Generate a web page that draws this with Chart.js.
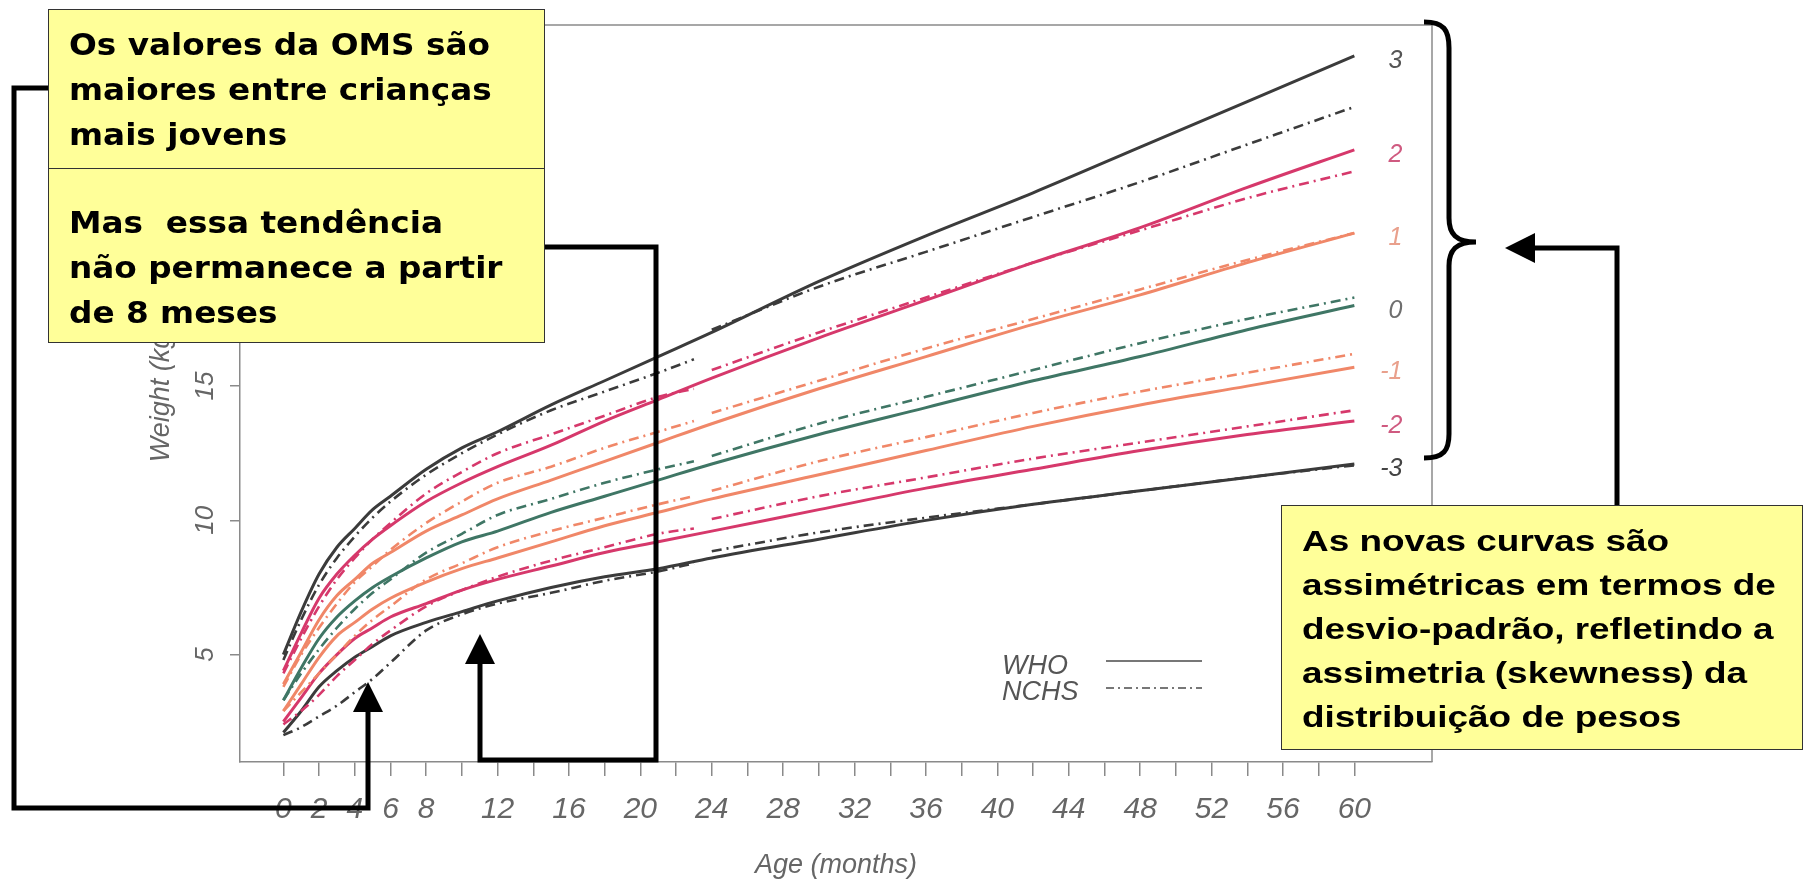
<!DOCTYPE html>
<html>
<head>
<meta charset="utf-8">
<script src="https://cdn.jsdelivr.net/npm/chart.js@4.4.1/dist/chart.umd.min.js"></script>
<style>
  html, body { margin: 0; padding: 0; background: #fff; }
  #wrap { position: relative; width: 1805px; height: 880px; overflow: hidden; }
  #myChart { position: absolute; left: 0; top: 0; }
  #arrows { position: absolute; left: 0; top: 0; }
  .note { position: absolute; box-sizing: border-box; background: #ffff99; border: 1.5px solid #333; color: #000; font-weight: bold; }
  .note .txt { transform-origin: 0 0; white-space: nowrap; }
  #note1, #note2 { font-family: 'DejaVu Sans', sans-serif; font-size: 30px; line-height: 45px; padding-left: 20px; }
  #note1 { left: 48px; top: 9px; width: 497px; height: 161px; padding-top: 12px; }
  #note2 { left: 48px; top: 168px; width: 497px; height: 175px; padding-top: 31px; }
  #note1 .txt, #note2 .txt { transform: scaleX(1.09); }
  #note3 { left: 1281px; top: 505px; width: 522px; height: 245px; padding-top: 13px; padding-left: 20px;
           font-family: 'Liberation Sans', Arial, sans-serif; font-size: 30px; line-height: 44px; }
  #note3 .txt { transform: scaleX(1.23); }
</style>
</head>
<body>
<div id="wrap">
  <canvas id="myChart" width="1805" height="880"></canvas>
  <svg id="arrows" width="1805" height="880">
    <g fill="none" stroke="#000" stroke-width="5">
      <polyline points="48,88 14,88 14,808 368,808 368,706"/>
      <polyline points="545,247 656,247 656,760 480,760 480,658"/>
      <polyline points="1617,505 1617,248 1530,248"/>
      <path d="M1424,22 C1444,22 1449,30 1449,48 L1449,218 C1449,234 1456,242 1476,242 C1456,242 1449,250 1449,266 L1449,434 C1449,450 1444,458 1424,458"/>
    </g>
    <g fill="#000">
      <polygon points="368,682 353,712 383,712"/>
      <polygon points="480,634 465,664 495,664"/>
      <polygon points="1505,248 1535,233 1535,263"/>
    </g>
  </svg>
  <div class="note" id="note1"><div class="txt">Os valores da OMS são<br>maiores entre crianças<br>mais jovens</div></div>
  <div class="note" id="note2"><div class="txt">Mas&nbsp; essa tendência<br>não permanece a partir<br>de 8 meses</div></div>
  <div class="note" id="note3"><div class="txt">As novas curvas são<br>assimétricas em termos de<br>desvio-padrão, refletindo a<br>assimetria (skewness) da<br>distribuição de pesos</div></div>
</div>
<script>
// WHO standard curves (solid), age in months
var whoMonths = [0, 1, 2, 3, 4, 5, 6, 8, 10, 12, 15, 18, 21, 24, 30, 36, 42, 48, 54, 60];
var whoP3 = [5.0, 6.6, 8.0, 9.0, 9.7, 10.4, 10.9, 11.9, 12.7, 13.3, 14.3, 15.2, 16.1, 17.0, 18.9, 20.6, 22.2, 23.9, 25.6, 27.3];
var whoP2 = [4.4, 5.8, 7.1, 8.0, 8.7, 9.3, 9.8, 10.7, 11.4, 12.0, 12.8, 13.7, 14.5, 15.3, 16.8, 18.2, 19.6, 20.9, 22.4, 23.8];
var whoP1 = [3.9, 5.1, 6.3, 7.2, 7.8, 8.4, 8.8, 9.6, 10.2, 10.8, 11.5, 12.2, 12.9, 13.6, 14.9, 16.1, 17.3, 18.4, 19.6, 20.7];
var who0  = [3.3, 4.5, 5.6, 6.4, 7.0, 7.5, 7.9, 8.6, 9.2, 9.6, 10.3, 10.9, 11.5, 12.1, 13.2, 14.2, 15.2, 16.1, 17.1, 18.0];
var whoM1 = [2.9, 3.9, 4.9, 5.7, 6.2, 6.7, 7.1, 7.7, 8.2, 8.6, 9.2, 9.8, 10.3, 10.8, 11.7, 12.6, 13.5, 14.3, 15.0, 15.7];
var whoM2 = [2.5, 3.4, 4.3, 5.0, 5.6, 6.0, 6.4, 6.9, 7.4, 7.8, 8.3, 8.8, 9.2, 9.6, 10.4, 11.2, 11.9, 12.6, 13.2, 13.7];
var whoM3 = [2.1, 2.9, 3.8, 4.4, 4.9, 5.3, 5.7, 6.2, 6.6, 7.0, 7.5, 7.9, 8.2, 8.6, 9.3, 10.0, 10.6, 11.1, 11.6, 12.1];

// NCHS reference curves (dash-dot), break between 23 and 24 months
var nchsMonths = [0, 1, 2, 3, 4, 5, 6, 8, 10, 12, 15, 18, 21, 23, 23.5, 24, 30, 36, 42, 48, 54, 60];
var nchsP3 = [4.8, 6.3, 7.6, 8.6, 9.4, 10.1, 10.7, 11.7, 12.5, 13.2, 14.1, 14.8, 15.5, 16.0, null, 17.1, 18.7, 20.0, 21.3, 22.6, 24.0, 25.4];
var nchsP2 = [4.3, 5.6, 6.8, 7.8, 8.6, 9.3, 9.9, 11.0, 11.8, 12.5, 13.2, 13.9, 14.6, 14.9, null, 15.6, 17.0, 18.3, 19.6, 20.8, 22.0, 23.0];
var nchsP1 = [3.8, 5.0, 6.0, 6.9, 7.7, 8.3, 8.9, 9.9, 10.7, 11.4, 12.0, 12.7, 13.3, 13.7, null, 14.0, 15.2, 16.4, 17.5, 18.6, 19.7, 20.7];
var nchs0  = [3.3, 4.3, 5.2, 6.0, 6.7, 7.3, 7.8, 8.8, 9.5, 10.2, 10.8, 11.4, 11.9, 12.2, null, 12.4, 13.6, 14.6, 15.6, 16.6, 17.5, 18.3];
var nchsM1 = [2.9, 3.6, 4.3, 5.0, 5.7, 6.3, 6.8, 7.8, 8.4, 9.0, 9.6, 10.1, 10.6, 10.9, null, 11.1, 12.2, 13.1, 14.0, 14.8, 15.5, 16.2];
var nchsM2 = [2.4, 2.9, 3.5, 4.2, 4.8, 5.4, 5.9, 6.8, 7.4, 7.9, 8.5, 9.0, 9.5, 9.7, null, 10.05, 10.9, 11.6, 12.3, 12.9, 13.5, 14.1];
var nchsM3 = [2.0, 2.3, 2.7, 3.1, 3.6, 4.1, 4.7, 5.9, 6.5, 6.9, 7.3, 7.75, 8.1, 8.4, null, 8.85, 9.55, 10.1, 10.6, 11.1, 11.6, 12.05];

var sdLabels = ['3', '2', '1', '0', '-1', '-2', '-3'];
var xTickMarks = [0, 2, 4, 6, 8, 10, 12, 14, 16, 18, 20, 22, 24, 26, 28, 30, 32, 34, 36, 38, 40, 42, 44, 46, 48, 50, 52, 54, 56, 58, 60];
var xTickLabels = [0, 2, 4, 6, 8, 12, 16, 20, 24, 28, 32, 36, 40, 44, 48, 52, 56, 60];
var yTicks = [5, 10, 15, 20, 25];
var legendNames = ['WHO', 'NCHS'];

var black = '#3b3b3b', pink = '#d6386b', salmon = '#f08768', green = '#3f7665';
var sdColors = [black, pink, salmon, green, salmon, pink, black];
var labelColors = ['#555555', '#cf5a80', '#e9a08c', '#6f6f6f', '#e9a08c', '#cf5a80', '#444444'];
var dashDot = [10, 5, 2, 5];

function pts(months, vals) {
  return months.map(function(m, i) { return {x: m, y: vals[i]}; });
}

var whoSets = [whoP3, whoP2, whoP1, who0, whoM1, whoM2, whoM3];
var nchsSets = [nchsP3, nchsP2, nchsP1, nchs0, nchsM1, nchsM2, nchsM3];

var datasets = [];
nchsSets.forEach(function(vals, i) {
  datasets.push({
    label: 'NCHS ' + sdLabels[i],
    data: pts(nchsMonths, vals),
    borderColor: sdColors[i],
    borderWidth: 2.6,
    borderDash: dashDot,
    pointRadius: 0,
    spanGaps: false,
    cubicInterpolationMode: 'monotone',
    fill: false
  });
});
whoSets.forEach(function(vals, i) {
  datasets.push({
    label: 'WHO ' + sdLabels[i],
    data: pts(whoMonths, vals),
    borderColor: sdColors[i],
    borderWidth: 3,
    pointRadius: 0,
    cubicInterpolationMode: 'monotone',
    fill: false
  });
});

var decor = {
  id: 'decor',
  afterDraw: function(chart) {
    var ctx = chart.ctx, a = chart.chartArea;
    var xs = chart.scales.x, ys = chart.scales.y;
    ctx.save();
    // frame top and right
    ctx.strokeStyle = '#8a8a8a';
    ctx.lineWidth = 1.5;
    ctx.beginPath();
    ctx.moveTo(a.left, a.top);
    ctx.lineTo(a.right, a.top);
    ctx.lineTo(a.right, a.bottom);
    ctx.stroke();

    // rotated y tick labels
    ctx.fillStyle = '#666';
    ctx.font = 'italic 26px "Liberation Sans", Arial, sans-serif';
    ctx.textAlign = 'center';
    ctx.textBaseline = 'middle';
    yTicks.forEach(function(v) {
      ctx.save();
      ctx.translate(206, ys.getPixelForValue(v));
      ctx.rotate(-Math.PI / 2);
      ctx.fillText(String(v), 0, 0);
      ctx.restore();
    });

    // SD labels at line ends
    ctx.font = 'italic 25px "Liberation Sans", Arial, sans-serif';
    ctx.textAlign = 'right';
    whoSets.forEach(function(vals, i) {
      var last = vals[vals.length - 1];
      ctx.fillStyle = labelColors[i];
      ctx.fillText(sdLabels[i], xs.getPixelForValue(whoMonths[whoMonths.length - 1]) + 48, ys.getPixelForValue(last) + 5);
    });

    // legend
    ctx.fillStyle = '#555';
    ctx.font = 'italic 27px "Liberation Sans", Arial, sans-serif';
    ctx.textAlign = 'left';
    ctx.textBaseline = 'alphabetic';
    ctx.fillText(legendNames[0], 1002, 674);
    ctx.fillText(legendNames[1], 1002, 700);
    ctx.strokeStyle = '#777';
    ctx.lineWidth = 2;
    ctx.beginPath();
    ctx.moveTo(1106, 661); ctx.lineTo(1202, 661);
    ctx.stroke();
    ctx.setLineDash([8, 4, 2, 4]);
    ctx.beginPath();
    ctx.moveTo(1106, 688); ctx.lineTo(1202, 688);
    ctx.stroke();
    ctx.restore();
  }
};

Chart.defaults.font.family = '"Liberation Sans", Arial, sans-serif';

var ctx = document.getElementById('myChart');
var myChart = new Chart(ctx, {
  type: 'line',
  data: { datasets: datasets },
  options: {
    responsive: false,
    animation: false,
    events: [],
    layout: { padding: { left: 0, right: 373, top: 25, bottom: -10 } },
    plugins: { legend: { display: false }, tooltip: { enabled: false } },
    scales: {
      x: {
        type: 'linear',
        min: -2.43,
        max: 64.35,
        afterFit: function(scale) { scale.height = 128; },
        afterBuildTicks: function(scale) {
          scale.ticks = xTickMarks.map(function(v) { return {value: v}; });
        },
        ticks: {
          autoSkip: false,
          maxRotation: 0,
          padding: 16,
          color: '#666',
          font: { size: 30, style: 'italic' },
          callback: function(value) {
            return xTickLabels.indexOf(value) >= 0 ? String(value) : '';
          }
        },
        grid: { drawOnChartArea: false, drawTicks: true, tickLength: 14, color: '#8a8a8a', lineWidth: 1.5 },
        border: { display: true, color: '#8a8a8a', width: 1.5 },
        title: {
          display: true,
          text: 'Age (months)',
          color: '#666',
          font: { size: 27, style: 'italic', lineHeight: 1.2 },
          padding: { top: 0, bottom: 8 }
        }
      },
      y: {
        type: 'linear',
        min: 1,
        max: 28.45,
        afterFit: function(scale) { scale.width = 240; },
        afterBuildTicks: function(scale) {
          scale.ticks = yTicks.map(function(v) { return {value: v}; });
        },
        ticks: { display: false },
        grid: { drawOnChartArea: false, drawTicks: true, tickLength: 10, color: '#8a8a8a', lineWidth: 1.5 },
        border: { display: true, color: '#8a8a8a', width: 1.5 },
        title: {
          display: true,
          text: 'Weight (kg)',
          color: '#666',
          font: { size: 27, style: 'italic' },
          padding: { top: 145, bottom: 0 }
        }
      }
    }
  },
  plugins: [decor]
});
</script>
</body>
</html>
